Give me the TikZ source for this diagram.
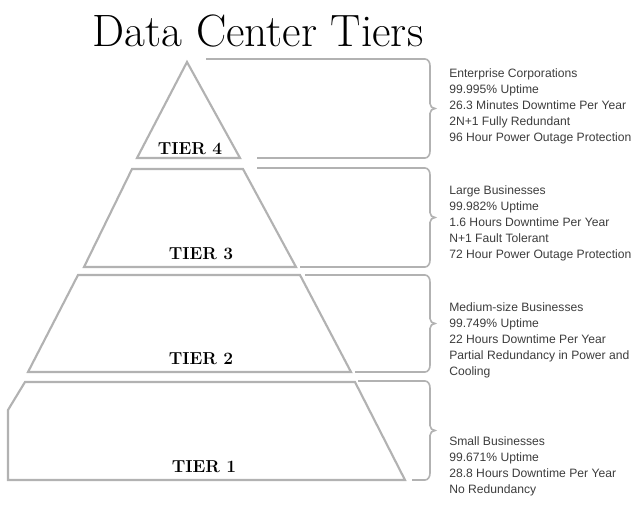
\documentclass[tikz,border=0pt]{standalone}
\usepackage{fontspec}
\newfontfamily\infofont{Liberation Sans}
\usetikzlibrary{positioning}
\definecolor{tiergray}{RGB}{178,178,178}
\definecolor{infotext}{RGB}{60,60,60}
\newcommand{\tierbrace}[4]{%
  \draw[brace] (#1,#3) -- (425,#3) to[out=0,in=90] (430,#3+7) -- (430,#3/2+#4/2-5)
    to[out=-90,in=180] (435,#3/2+#4/2) to[out=180,in=90] (430,#3/2+#4/2+5)
    -- (430,#4-7) to[out=-90,in=0] (425,#4) -- (#2,#4);}
\begin{document}
\begin{tikzpicture}[
        x=0.75pt, y=-0.75pt,
        tier/.style={draw=tiergray, line width=1.6pt, line join=miter},
        brace/.style={draw=tiergray, line width=1.2pt},
        tiername/.style={font=\fontsize{13}{13}\selectfont\bfseries, inner sep=0pt},
        info/.style={font=\infofont\fontsize{9.1}{12}\selectfont, text=infotext, align=left, anchor=north west, inner sep=0pt}
      ]
      \useasboundingbox (0,0) rectangle (642,515);

      % Title
      \node[font=\fontsize{34}{34}\selectfont] (title) at (258,31) {Data Center Tiers};

      % Pyramid
      \draw[tier] (187,62) -- (240,158) -- (137,158) -- cycle;
      \draw[tier] (132,169) -- (243,169) -- (296,267) -- (84,267) -- cycle;
      \draw[tier] (78,275) -- (300,275) -- (351,372) -- (28,372) -- cycle;
      \draw[tier] (25,382) -- (355,382) -- (405,480) -- (8,480) -- (8,410) -- cycle;

      \node[tiername] (t4) at (190,149) {TIER 4};
      \node[tiername] (t3) at (201,254) {TIER 3};
      \node[tiername] (t2) at (201,359) {TIER 2};
      \node[tiername] (t1) at (204,467) {TIER 1};

      % Braces
      \tierbrace{206}{257}{59}{158}
      \tierbrace{257}{300}{168}{267}
      \tierbrace{305}{355}{275}{372}
      \tierbrace{358}{412}{381}{480}

      % Descriptions
      \node[info] (d4) at (449,68) {Enterprise Corporations\\99.995\% Uptime\\26.3 Minutes Downtime Per Year\\2N+1 Fully Redundant\\96 Hour Power Outage Protection};
      \node[info] (d3) at (449,185) {Large Businesses\\99.982\% Uptime\\1.6 Hours Downtime Per Year\\N+1 Fault Tolerant\\72 Hour Power Outage Protection};
      \node[info] (d2) at (449,302) {Medium-size Businesses\\99.749\% Uptime\\22 Hours Downtime Per Year\\Partial Redundancy in Power and\\Cooling};
      \node[info] (d1) at (449,436) {Small Businesses\\99.671\% Uptime\\28.8 Hours Downtime Per Year\\No Redundancy};
    \end{tikzpicture}
\end{document}
